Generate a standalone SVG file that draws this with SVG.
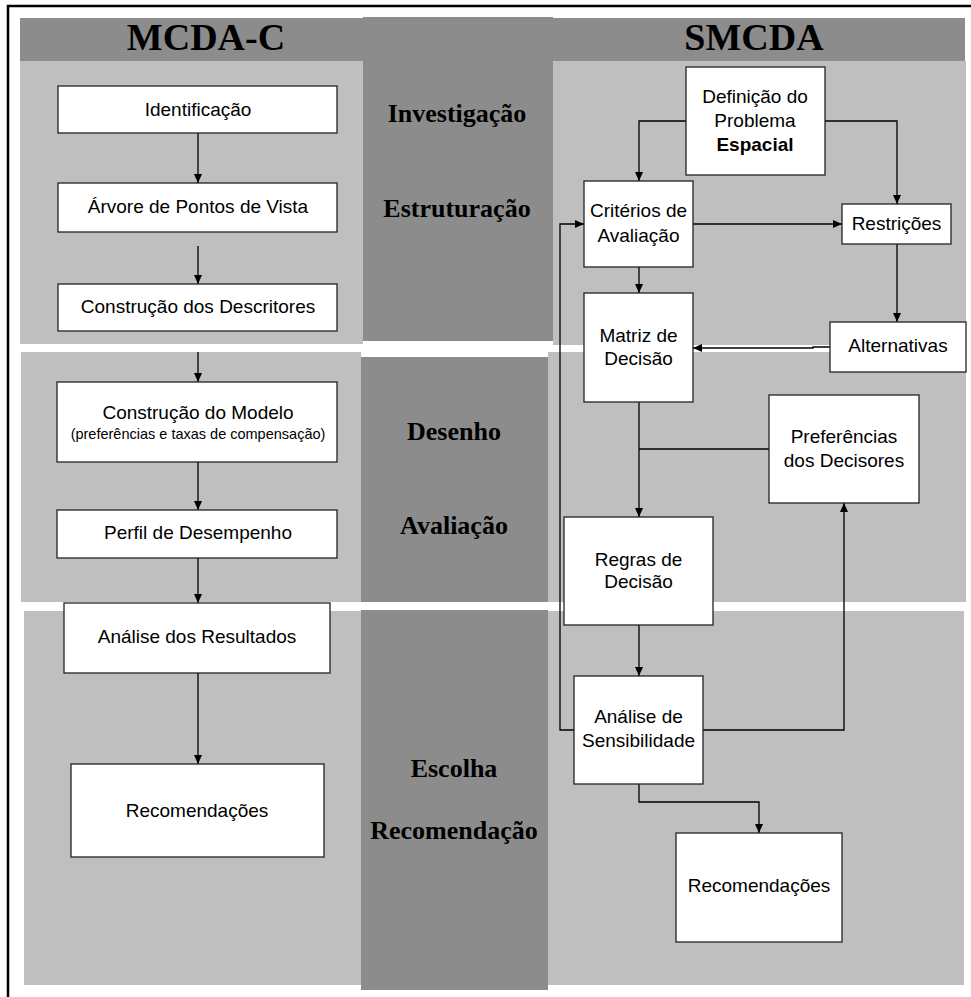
<svg xmlns="http://www.w3.org/2000/svg" width="971" height="997" viewBox="0 0 971 997">
<style>
.dark{fill:#8c8c8c}
.light{fill:#bfbfbf}
.box{fill:#fff;stroke:#222;stroke-width:1.3}
.t{font-family:"Liberation Sans",Arial,sans-serif;font-size:19px;fill:#000;text-anchor:middle}
.s{font-size:14.5px}
.b{font-weight:bold}
.hd{font-family:"Liberation Serif","Times New Roman",serif;font-weight:bold;font-size:38px;fill:#000;text-anchor:middle}
.ph{font-family:"Liberation Serif","Times New Roman",serif;font-weight:bold;font-size:26px;fill:#000;text-anchor:middle}
.c{fill:none;stroke:#000;stroke-width:1.3}
</style>
<defs>
<marker id="ah" markerUnits="userSpaceOnUse" markerWidth="9" markerHeight="8" refX="9" refY="4" orient="auto">
<path d="M0,0 L9,4 L0,8 z" fill="#000"/>
</marker>
</defs>
<rect x="0" y="0" width="971" height="997" fill="#fff"/>
<g id="background">
<rect class="light" x="20" y="61" width="343" height="283"/>
<rect class="light" x="553" y="61" width="413" height="284"/>
<rect class="light" x="21" y="352" width="340" height="250"/>
<rect class="light" x="548" y="352" width="418" height="250"/>
<rect class="light" x="24" y="611" width="337" height="374"/>
<rect class="light" x="548" y="611" width="416" height="374"/>
<rect class="dark" x="20" y="18" width="945" height="43"/>
<rect class="dark" x="363" y="17" width="190" height="324"/>
<rect class="dark" x="361" y="357" width="187" height="245"/>
<rect class="dark" x="361" y="610" width="187" height="380"/>
<path d="M8,997 V6 H971" fill="none" stroke="#000" stroke-width="2.5"/>
</g>
<g id="labels">
<text class="hd" x="206" y="50">MCDA-C</text>
<text class="hd" x="754" y="50">SMCDA</text>
<text class="ph" x="457" y="122">Investigação</text>
<text class="ph" x="457" y="217">Estruturação</text>
<text class="ph" x="454" y="440">Desenho</text>
<text class="ph" x="454" y="534">Avaliação</text>
<text class="ph" x="454" y="777">Escolha</text>
<text class="ph" x="454" y="839">Recomendação</text>
</g>
<g id="connectors">
<path class="c" d="M198,133 V183" marker-end="url(#ah)"/>
<path class="c" d="M198,246 V284" marker-end="url(#ah)"/>
<path class="c" d="M198,352 V382" marker-end="url(#ah)"/>
<path class="c" d="M198,462 V510" marker-end="url(#ah)"/>
<path class="c" d="M198,558 V603" marker-end="url(#ah)"/>
<path class="c" d="M198,673 V764" marker-end="url(#ah)"/>
<path class="c" d="M686,121 H639 V181" marker-end="url(#ah)"/>
<path class="c" d="M825,121 H897 V204" marker-end="url(#ah)"/>
<path class="c" d="M693,224 H842" marker-end="url(#ah)"/>
<path class="c" d="M639,267 V293" marker-end="url(#ah)"/>
<path class="c" d="M897,244 V322" marker-end="url(#ah)"/>
<path class="c" d="M830,347 H813 V348 H693" marker-end="url(#ah)"/>
<path class="c" d="M639,402 V517" marker-end="url(#ah)"/>
<path class="c" d="M769,449 H639"/>
<path class="c" d="M639,625 V676" marker-end="url(#ah)"/>
<path class="c" d="M574,730 H560 V224 H584" marker-end="url(#ah)"/>
<path class="c" d="M703,730 H844 V503" marker-end="url(#ah)"/>
<path class="c" d="M639,784 V802 H759 V833" marker-end="url(#ah)"/>
</g>
<g id="n-identificacao">
<rect class="box" x="58" y="86" width="279" height="47"/>
<text class="t" x="198" y="116">Identificação</text>
</g>
<g id="n-arvore">
<rect class="box" x="58" y="183" width="279" height="49"/>
<text class="t" x="198" y="213">Árvore de Pontos de Vista</text>
</g>
<g id="n-descritores">
<rect class="box" x="58" y="284" width="279" height="47"/>
<text class="t" x="198" y="313">Construção dos Descritores</text>
</g>
<g id="n-modelo">
<rect class="box" x="57" y="382" width="280" height="80"/>
<text class="t" x="198" y="419">Construção do Modelo</text>
<text class="t s" x="198" y="439">(preferências e taxas de compensação)</text>
</g>
<g id="n-perfil">
<rect class="box" x="57" y="510" width="280" height="48"/>
<text class="t" x="198" y="539">Perfil de Desempenho</text>
</g>
<g id="n-analise-resultados">
<rect class="box" x="64" y="603" width="266" height="70"/>
<text class="t" x="197" y="643">Análise dos Resultados</text>
</g>
<g id="n-recomendacoes-l">
<rect class="box" x="71" y="764" width="253" height="93"/>
<text class="t" x="197" y="817">Recomendações</text>
</g>
<g id="n-definicao">
<rect class="box" x="686" y="67" width="139" height="108"/>
<text class="t" x="755" y="103">Definição do</text>
<text class="t" x="755" y="127">Problema</text>
<text class="t b" x="755" y="151">Espacial</text>
</g>
<g id="n-criterios">
<rect class="box" x="584" y="181" width="109" height="86"/>
<text class="t" x="638.5" y="217">Critérios de</text>
<text class="t" x="638.5" y="242">Avaliação</text>
</g>
<g id="n-restricoes">
<rect class="box" x="842" y="204" width="109" height="40"/>
<text class="t" x="896.5" y="230">Restrições</text>
</g>
<g id="n-matriz">
<rect class="box" x="584" y="293" width="109" height="109"/>
<text class="t" x="638.5" y="342">Matriz de</text>
<text class="t" x="638.5" y="365">Decisão</text>
</g>
<g id="n-alternativas">
<rect class="box" x="830" y="322" width="136" height="50"/>
<text class="t" x="898" y="352">Alternativas</text>
</g>
<g id="n-preferencias">
<rect class="box" x="769" y="395" width="150" height="108"/>
<text class="t" x="844" y="443">Preferências</text>
<text class="t" x="844" y="467">dos Decisores</text>
</g>
<g id="n-regras">
<rect class="box" x="564" y="517" width="149" height="108"/>
<text class="t" x="638.5" y="566">Regras de</text>
<text class="t" x="638.5" y="588">Decisão</text>
</g>
<g id="n-sensibilidade">
<rect class="box" x="574" y="676" width="129" height="108"/>
<text class="t" x="638.5" y="723">Análise de</text>
<text class="t" x="638.5" y="747">Sensibilidade</text>
</g>
<g id="n-recomendacoes-r">
<rect class="box" x="676" y="833" width="166" height="109"/>
<text class="t" x="759" y="892">Recomendações</text>
</g>
</svg>
